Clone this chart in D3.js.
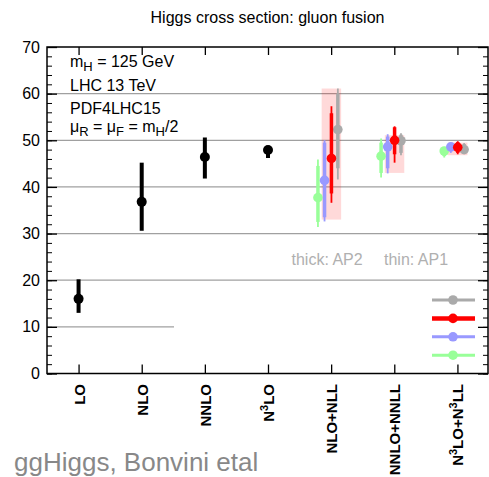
<!DOCTYPE html>
<html>
<head>
<meta charset="utf-8">
<script src="https://cdn.jsdelivr.net/npm/d3@7"></script>
<style>
  body { margin: 0; background: #fff; }
  svg { font-family: "Liberation Sans", Arial, sans-serif; }
</style>
</head>
<body>
<svg id="chart" width="489" height="477"></svg>
<script>
// Higgs cross section (pb) at LHC 13 TeV, gluon fusion

// x categories
const categories = ["LO", "NLO", "NNLO", "N3LO", "NLO+NLL", "NNLO+NNLL", "N3LO+N3LL"];

// fixed order results (black)
const foCats = ["LO", "NLO", "NNLO", "N3LO"];
const foCentral = [16.0, 36.8, 46.4, 47.9];
const foLow = [13.0, 30.6, 41.8, 46.2];
const foHigh = [20.2, 45.2, 50.6, 48.8];

// resummed results, four variants each
const resCats = ["NLO+NLL", "NNLO+NNLL", "N3LO+N3LL"];

const greyCentral = [52.3, 49.9, 48.0];
const greyThick = [[44.0, 60.0], [47.3, 51.2], [47.4, 49.2]];
const greyThin = [[41.6, 61.1], [46.8, 51.5], [47.2, 49.4]];

const redCentral = [46.1, 50.0, 48.5];
const redThick = [[38.6, 55.8], [47.0, 52.8], [47.3, 49.6]];
const redThin = [[36.6, 57.3], [45.2, 53.0], [47.0, 49.8]];

const blueCentral = [41.4, 48.6, 48.6];
const blueThick = [[33.5, 49.5], [44.0, 50.8], [47.6, 49.1]];
const blueThin = [[32.6, 50.0], [42.9, 51.3], [47.3, 49.3]];

const greenCentral = [37.7, 46.6, 47.7];
const greenThick = [[32.5, 44.5], [43.0, 49.5], [46.6, 48.4]];
const greenThin = [[31.4, 45.9], [42.0, 50.4], [46.3, 48.6]];

// pink uncertainty envelopes
const bandLow = [33.0, 43.0, 46.8];
const bandHigh = [61.1, 51.1, 49.5];

const yTicks = [0, 10, 20, 30, 40, 50, 60, 70];

const series = [
    { color: "#aaaaaa", offset: 6.7, central: greyCentral, thick: greyThick, thin: greyThin, lw: 3 },
    { color: "#99ff99", offset: -13.2, central: greenCentral, thick: greenThick, thin: greenThin, lw: 3 },
    { color: "#9999ff", offset: -6.6, central: blueCentral, thick: blueThick, thin: blueThin, lw: 3 },
    { color: "#ff0000", offset: 0.3, central: redCentral, thick: redThick, thin: redThin, lw: 4.5 }
];
const legendOrder = [0, 3, 2, 1];

// Layout
const plotLeft = 47, plotRight = 488, plotTop = 47, plotBottom = 373.5;

const svg = d3.select("#chart");

const x = d3.scalePoint()
    .domain(categories)
    .range([plotLeft, plotRight + 1])
    .padding(0.5);

const y = d3.scaleLinear()
    .domain([0, 70])
    .range([plotBottom, plotTop]);

// Title
svg.append("text")
    .attr("x", (plotLeft + plotRight) / 2)
    .attr("y", 23)
    .attr("text-anchor", "middle")
    .attr("font-size", 16)
    .text("Higgs cross section: gluon fusion");

// Grid lines
svg.append("g")
    .selectAll("line")
    .data(yTicks.filter(d => d > 0 && d < 70))
    .enter().append("line")
    .attr("x1", plotLeft)
    .attr("x2", d => d === 10 ? 174 : plotRight)
    .attr("y1", d => y(d))
    .attr("y2", d => y(d))
    .attr("stroke", "#a0a0a0")
    .attr("stroke-width", 1.2);

// Left axis with labels, ticks pointing inward
svg.append("g")
    .attr("transform", `translate(${plotLeft},0)`)
    .call(d3.axisLeft(y).tickValues(yTicks).tickSize(-10).tickPadding(7))
    .call(g => g.select(".domain").remove())
    .call(g => g.selectAll("line").attr("stroke", "#000").attr("stroke-width", 1.3))
    .call(g => g.selectAll("text").attr("font-size", 16).attr("fill", "#000")
        .attr("font-family", "Liberation Sans, Arial, sans-serif"));

// Minor ticks left
svg.append("g")
    .attr("transform", `translate(${plotLeft},0)`)
    .call(d3.axisLeft(y).tickValues(d3.range(0, 71, 2)).tickSize(-5).tickFormat(""))
    .call(g => g.select(".domain").remove())
    .call(g => g.selectAll("line").attr("stroke", "#000").attr("stroke-width", 1));

// Right mirrored ticks
svg.append("g")
    .attr("transform", `translate(${plotRight},0)`)
    .call(d3.axisRight(y).tickValues(yTicks).tickSize(-10).tickFormat(""))
    .call(g => g.select(".domain").remove())
    .call(g => g.selectAll("line").attr("stroke", "#000").attr("stroke-width", 1.3));

svg.append("g")
    .attr("transform", `translate(${plotRight},0)`)
    .call(d3.axisRight(y).tickValues(d3.range(0, 71, 2)).tickSize(-5).tickFormat(""))
    .call(g => g.select(".domain").remove())
    .call(g => g.selectAll("line").attr("stroke", "#000").attr("stroke-width", 1));

// Bottom and top ticks
svg.append("g")
    .attr("transform", `translate(0,${plotBottom})`)
    .call(d3.axisBottom(x).tickSize(-9).tickFormat(""))
    .call(g => g.select(".domain").remove())
    .call(g => g.selectAll("line").attr("stroke", "#000").attr("stroke-width", 1.3));

svg.append("g")
    .attr("transform", `translate(0,${plotTop})`)
    .call(d3.axisTop(x).tickSize(-8).tickFormat(""))
    .call(g => g.select(".domain").remove())
    .call(g => g.selectAll("line").attr("stroke", "#000").attr("stroke-width", 1.3));

// Frame
svg.append("rect")
    .attr("x", plotLeft)
    .attr("y", plotTop)
    .attr("width", plotRight - plotLeft)
    .attr("height", plotBottom - plotTop)
    .attr("fill", "none")
    .attr("stroke", "#000")
    .attr("stroke-width", 1.5);

// Rotated x labels with superscripts
function labelParts(name) {
    if (name === "N3LO") return [["N", 0], ["3", 1], ["LO", 0]];
    if (name === "N3LO+N3LL") return [["N", 0], ["3", 1], ["LO+N", 0], ["3", 1], ["LL", 0]];
    return [[name, 0]];
}

const xl = svg.append("g")
    .selectAll("text")
    .data(categories)
    .enter().append("text")
    .attr("transform", d => `translate(${x(d) + 6},384) rotate(-90)`)
    .attr("text-anchor", "end")
    .attr("font-size", 15)
    .attr("font-weight", "bold");

xl.each(function(d) {
    const t = d3.select(this);
    let sup = false;
    labelParts(d).forEach(([s, isSup]) => {
        const ts = t.append("tspan").text(s);
        if (isSup && !sup) { ts.attr("dy", -6).attr("font-size", 11); sup = true; }
        else if (!isSup && sup) { ts.attr("dy", 6); sup = false; }
    });
});

// Pink envelopes
svg.append("g")
    .selectAll("rect")
    .data(resCats)
    .enter().append("rect")
    .attr("x", d => x(d) - 9.5)
    .attr("width", 19.5)
    .attr("y", (d, i) => y(bandHigh[i]))
    .attr("height", (d, i) => y(bandLow[i]) - y(bandHigh[i]))
    .attr("fill", "#ff0000")
    .attr("fill-opacity", 0.15);

// Fixed order points
const fo = svg.append("g");
fo.selectAll("line")
    .data(foCats)
    .enter().append("line")
    .attr("x1", d => x(d))
    .attr("x2", d => x(d))
    .attr("y1", (d, i) => y(foLow[i]))
    .attr("y2", (d, i) => y(foHigh[i]))
    .attr("stroke", "#000")
    .attr("stroke-width", 4);
fo.selectAll("circle")
    .data(foCats)
    .enter().append("circle")
    .attr("cx", d => x(d))
    .attr("cy", (d, i) => y(foCentral[i]))
    .attr("r", 5)
    .attr("fill", "#000");

// Resummed points
series.forEach(s => {
    const g = svg.append("g");
    g.selectAll("line.thin")
        .data(resCats)
        .enter().append("line")
        .attr("class", "thin")
        .attr("x1", d => x(d) + s.offset)
        .attr("x2", d => x(d) + s.offset)
        .attr("y1", (d, i) => y(s.thin[i][0]))
        .attr("y2", (d, i) => y(s.thin[i][1]))
        .attr("stroke", s.color)
        .attr("stroke-width", 1.8);
    g.selectAll("line.thick")
        .data(resCats)
        .enter().append("line")
        .attr("class", "thick")
        .attr("x1", d => x(d) + s.offset)
        .attr("x2", d => x(d) + s.offset)
        .attr("y1", (d, i) => y(s.thick[i][0]))
        .attr("y2", (d, i) => y(s.thick[i][1]))
        .attr("stroke", s.color)
        .attr("stroke-width", 3.5);
    g.selectAll("circle")
        .data(resCats)
        .enter().append("circle")
        .attr("cx", d => x(d) + s.offset)
        .attr("cy", (d, i) => y(s.central[i]))
        .attr("r", 4.8)
        .attr("fill", s.color);
});

// Legend (no labels)
const legend = svg.append("g")
    .selectAll("g")
    .data(legendOrder)
    .enter().append("g")
    .attr("transform", (d, i) => `translate(453,${300 + i * 18.4})`);
legend.append("line")
    .attr("x1", -21).attr("x2", 22)
    .attr("stroke", d => series[d].color)
    .attr("stroke-width", d => series[d].lw);
legend.append("circle")
    .attr("r", 4.8)
    .attr("fill", d => series[d].color);

// thick / thin note
svg.append("text")
    .attr("x", 291.5).attr("y", 265)
    .attr("font-size", 16).attr("fill", "#b0b0b0")
    .text("thick: AP2");
svg.append("text")
    .attr("x", 384).attr("y", 265)
    .attr("font-size", 16).attr("fill", "#b0b0b0")
    .text("thin: AP1");

// Parameter annotations
const notes = svg.append("g").attr("font-size", 16);
const n1 = notes.append("text").attr("x", 70).attr("y", 67);
n1.append("tspan").text("m");
n1.append("tspan").text("H").attr("font-size", 13).attr("dy", 4);
n1.append("tspan").text(" = 125 GeV").attr("dy", -4);
notes.append("text").attr("x", 70).attr("y", 90.5).text("LHC 13 TeV");
notes.append("text").attr("x", 70).attr("y", 113.5).text("PDF4LHC15");
const n4 = notes.append("text").attr("x", 70).attr("y", 132);
n4.append("tspan").text("μ");
n4.append("tspan").text("R").attr("font-size", 13).attr("dy", 4);
n4.append("tspan").text(" = μ").attr("dy", -4);
n4.append("tspan").text("F").attr("font-size", 13).attr("dy", 4);
n4.append("tspan").text(" = m").attr("dy", -4);
n4.append("tspan").text("H").attr("font-size", 13).attr("dy", 4);
n4.append("tspan").text("/2").attr("dy", -4);

// Credit
svg.append("text")
    .attr("x", 14).attr("y", 471)
    .attr("font-size", 26)
    .attr("fill", "#888")
    .text("ggHiggs, Bonvini etal");
</script>
</body>
</html>
